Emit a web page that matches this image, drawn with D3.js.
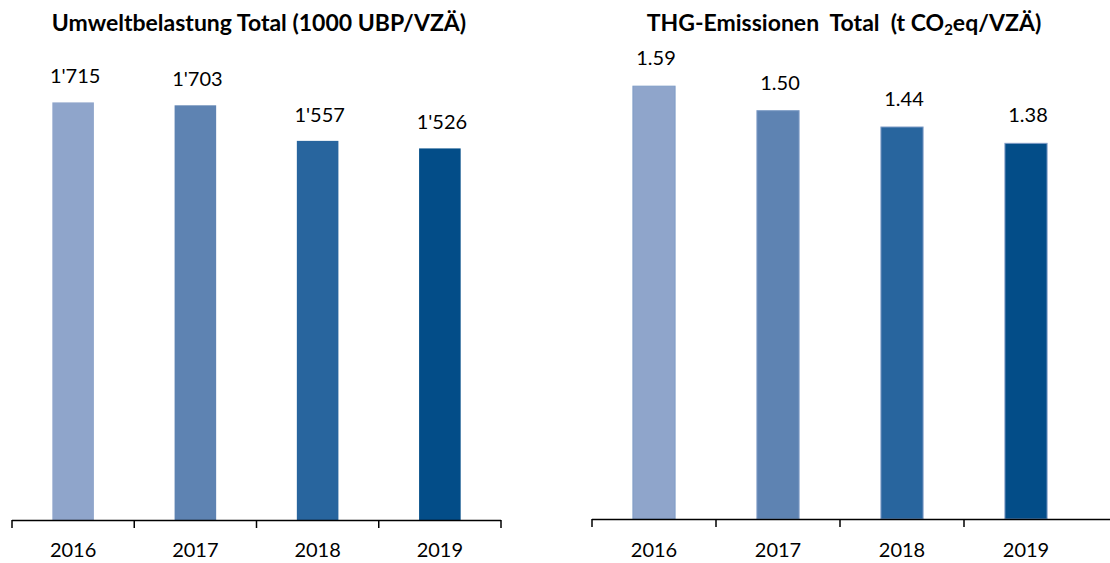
<!DOCTYPE html>
<html>
<head>
<meta charset="utf-8">
<script src="https://cdn.jsdelivr.net/npm/d3@7"></script>
<style>
  body { margin: 0; background: #fff; }
  svg { display: block; font-family: Lato, "Open Sans", sans-serif; }
</style>
</head>
<body>
<svg width="1110" height="563"></svg>
<script>
// data
var years = ["2016", "2017", "2018", "2019"];
var ubpValues = [1715, 1703, 1557, 1526];
var thgValues = [1.59, 1.50, 1.44, 1.38];
var barColors = ["#8fa5cb", "#5e83b2", "#28659e", "#034d88"];

var svg = d3.select("svg");

function drawChart(opt) {
  var g = svg.append("g");

  var x = d3.scaleBand()
    .domain(years)
    .range([opt.x0, opt.x1])
    .paddingInner(0.66)
    .paddingOuter(0.33);

  var y = d3.scaleLinear()
    .domain([0, opt.yMax])
    .range([opt.base, opt.top]);

  // bars
  g.selectAll("rect")
    .data(opt.values)
    .enter()
    .append("rect")
    .attr("x", function(d, i) { return x(years[i]); })
    .attr("y", function(d) { return y(d); })
    .attr("width", x.bandwidth())
    .attr("height", function(d) { return opt.base - y(d); })
    .attr("fill", function(d, i) { return barColors[i]; })
    .attr("stroke", opt.barStroke ? "#7f9cc6" : "none")
    .attr("stroke-width", 1);

  // value labels
  g.selectAll("text.val")
    .data(opt.values)
    .enter()
    .append("text")
    .attr("class", "val")
    .attr("x", function(d, i) { return x(years[i]) + x.bandwidth() / 2 + 2; })
    .attr("y", function(d) { return y(d) - opt.labelGap; })
    .attr("text-anchor", "middle")
    .attr("font-size", 20)
    .attr("fill", "#000")
    .text(opt.fmt);

  // axis line + ticks between categories
  var step = x.step();
  var tickPos = d3.range(years.length + (opt.lastTick ? 1 : 0)).map(function(i) { return opt.x0 + i * step; });
  g.append("line")
    .attr("x1", opt.x0).attr("x2", opt.lineEnd)
    .attr("y1", opt.base + 0.5).attr("y2", opt.base + 0.5)
    .attr("stroke", "#000").attr("stroke-width", 1.5);
  g.selectAll("line.tick")
    .data(tickPos)
    .enter()
    .append("line")
    .attr("class", "tick")
    .attr("x1", function(d) { return d; }).attr("x2", function(d) { return d; })
    .attr("y1", opt.base).attr("y2", opt.base + 8)
    .attr("stroke", "#000").attr("stroke-width", 1.5);

  g.selectAll("text.year")
    .data(years)
    .enter()
    .append("text")
    .attr("class", "year")
    .attr("x", function(d) { return x(d) + x.bandwidth() / 2; })
    .attr("y", 557)
    .attr("text-anchor", "middle")
    .attr("font-size", 20)
    .attr("fill", "#000")
    .text(function(d) { return d; });

  return g;
}

drawChart({
  x0: 12, x1: 501, lineEnd: 501, lastTick: true,
  base: 520, top: 33, yMax: 2000,
  values: ubpValues, labelGap: 19,
  fmt: function(d) { return d3.format(",")(d).replace(",", "'"); }
});

drawChart({
  x0: 592, x1: 1088, lineEnd: 1110, lastTick: false,
  base: 519, top: 29, yMax: 1.8,
  values: thgValues, labelGap: 21, barStroke: true,
  fmt: d3.format(".2f")
});

// titles
svg.append("text")
  .attr("x", 259).attr("y", 31)
  .attr("text-anchor", "middle")
  .attr("font-size", 23).attr("font-weight", "bold")
  .attr("fill", "#000")
  .text("Umweltbelastung Total (1000 UBP/VZÄ)");

var t2 = svg.append("text")
  .attr("x", 844).attr("y", 31)
  .attr("text-anchor", "middle")
  .attr("font-size", 23).attr("font-weight", "bold")
  .attr("fill", "#000")
  .attr("xml:space", "preserve");
t2.append("tspan").text("THG-Emissionen  Total  (t CO");
t2.append("tspan").attr("font-size", 15).attr("dy", 4).text("2");
t2.append("tspan").attr("dy", -4).text("eq/VZÄ)");
</script>
</body>
</html>
